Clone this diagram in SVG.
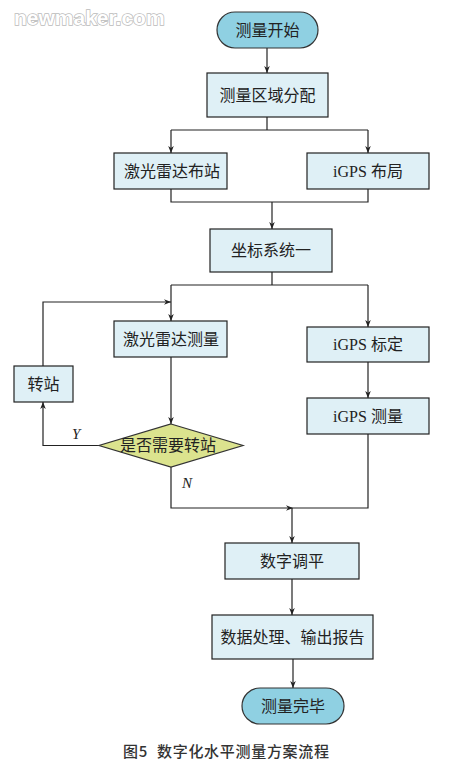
<svg xmlns="http://www.w3.org/2000/svg" width="464" height="768" viewBox="0 0 464 768">
<style>
.term{fill:#8fd0e2;stroke:#333;stroke-width:1.2}
.box{fill:#dff0f6;stroke:#222;stroke-width:1.2}
.dec{fill:#dbe38e;stroke:#333;stroke-width:1.2}
.t{font-family:"Liberation Serif","Noto Sans CJK SC",serif;font-size:16px;fill:#222;text-anchor:middle;dominant-baseline:central}
.lbl{font-family:"Liberation Serif",serif;font-size:15px;font-style:italic;fill:#222}
.ln{fill:none;stroke:#222;stroke-width:1.2}
.cap{font-family:"Noto Sans CJK SC","Liberation Sans",sans-serif;font-size:15px;font-weight:500;fill:#333;letter-spacing:0.7px}
.wm{font-family:"Liberation Sans",sans-serif;font-size:21px;font-weight:bold;fill:#fff;stroke:#bbb;stroke-width:1.5;paint-order:stroke}
</style>
<defs>
<marker id="a" viewBox="0 0 10 10" refX="10" refY="5" markerWidth="7" markerHeight="7" markerUnits="userSpaceOnUse" orient="auto">
<path d="M0,1 L10,5 L0,9 L3,5 Z" fill="#222"/>
</marker>
</defs>
<rect width="464" height="768" fill="#fff"/>
<text class="wm" x="14" y="25">newmaker.com</text>
<g id="connectors">
<path class="ln" d="M267,48 V73" marker-end="url(#a)"/>
<path class="ln" d="M267,117 V130 M171,130 H368"/>
<path class="ln" d="M171,130 V153" marker-end="url(#a)"/>
<path class="ln" d="M368,130 V153" marker-end="url(#a)"/>
<path class="ln" d="M171,189 V202 H368 V189"/>
<path class="ln" d="M272,202 V229" marker-end="url(#a)"/>
<path class="ln" d="M272,272 V285 M171,285 H368"/>
<path class="ln" d="M171,285 V321" marker-end="url(#a)"/>
<path class="ln" d="M368,285 V327" marker-end="url(#a)"/>
<path class="ln" d="M43,366 V302 H171" marker-end="url(#a)"/>
<path class="ln" d="M171,357 V424" marker-end="url(#a)"/>
<path class="ln" d="M99,445.5 H43 V402" marker-end="url(#a)"/>
<path class="ln" d="M368,362 V398" marker-end="url(#a)"/>
<path class="ln" d="M171,467 V508 H293" marker-end="url(#a)"/>
<path class="ln" d="M368,434 V508 H293"/>
<path class="ln" d="M292,508 V543" marker-end="url(#a)"/>
<path class="ln" d="M292,579 V615" marker-end="url(#a)"/>
<path class="ln" d="M293,659 V688" marker-end="url(#a)"/>
<text class="lbl" x="72" y="439">Y</text>
<text class="lbl" x="182" y="488">N</text>
</g>
<g id="start"><rect class="term" x="217" y="12" width="101" height="36" rx="18"/><text class="t" x="267.5" y="30">测量开始</text></g>
<g id="assign"><rect class="box" x="207" y="73" width="121" height="44"/><text class="t" x="267.5" y="95">测量区域分配</text></g>
<g id="laserLayout"><rect class="box" x="114" y="153" width="113" height="36"/><text class="t" x="172" y="171">激光雷达布站</text></g>
<g id="igpsLayout"><rect class="box" x="307" y="153" width="122" height="36"/><text class="t" x="368" y="171">iGPS 布局</text></g>
<g id="coord"><rect class="box" x="210" y="229" width="122" height="43"/><text class="t" x="271" y="250.5">坐标系统一</text></g>
<g id="laserMeasure"><rect class="box" x="114" y="321" width="113" height="36"/><text class="t" x="171" y="339">激光雷达测量</text></g>
<g id="igpsCal"><rect class="box" x="307" y="327" width="122" height="35"/><text class="t" x="368" y="344.5">iGPS 标定</text></g>
<g id="igpsMeasure"><rect class="box" x="307" y="398" width="122" height="36"/><text class="t" x="368" y="416">iGPS 测量</text></g>
<g id="transfer"><rect class="box" x="14" y="366" width="59" height="36"/><text class="t" x="43.5" y="384">转站</text></g>
<g id="decision"><polygon class="dec" points="171,424 243,445.5 171,467 99,445.5"/><text class="t" x="168" y="445.5">是否需要转站</text></g>
<g id="level"><rect class="box" x="225" y="543" width="134" height="36"/><text class="t" x="292" y="561">数字调平</text></g>
<g id="process"><rect class="box" x="212" y="615" width="161" height="44"/><text class="t" x="292.5" y="637">数据处理、输出报告</text></g>
<g id="end"><rect class="term" x="242" y="688" width="102" height="36" rx="18"/><text class="t" x="293" y="706">测量完毕</text></g>
<text class="cap" x="123" y="757">图5</text>
<text class="cap" x="157" y="757">数字化水平测量方案流程</text>
</svg>
